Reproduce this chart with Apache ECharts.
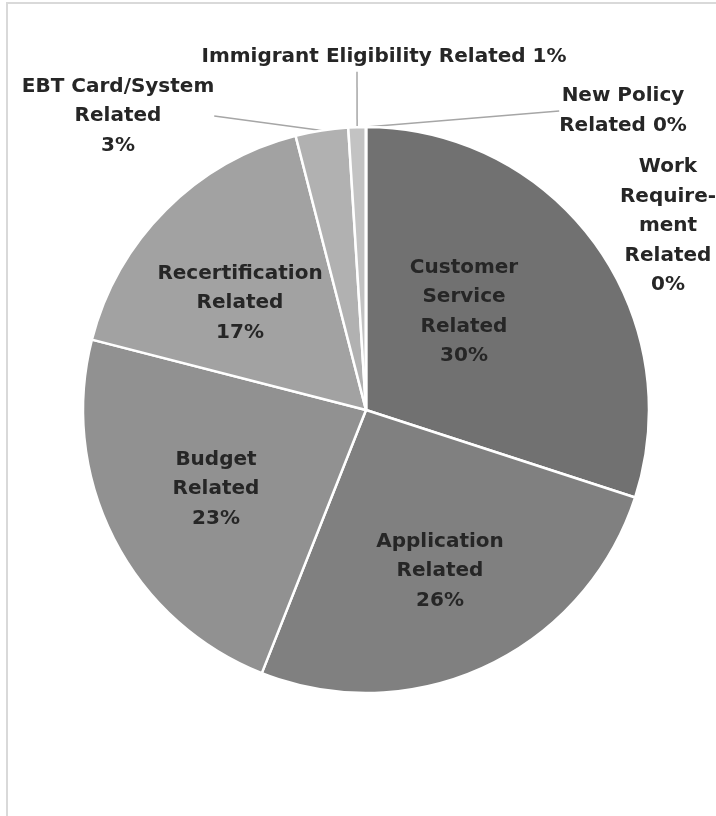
<!DOCTYPE html>
<html>
<head>
<meta charset="utf-8">
<script src="https://cdn.jsdelivr.net/npm/echarts@6/dist/echarts.min.js"></script>
<style>
  html, body { margin: 0; padding: 0; background: #ffffff; }
  #chart { width: 716px; height: 816px; }
</style>
</head>
<body>
<div id="chart"></div>
<script>
// Complaint categories, in clockwise order from 12 o'clock
const categories = [
  'Customer Service Related',
  'Application Related',
  'Budget Related',
  'Recertification Related',
  'EBT Card/System Related',
  'Immigrant Eligibility Related',
  'New Policy Related',
  'Work Requirement Related'
];
// Share of complaints, in percent
const shares = [30, 26, 23, 17, 3, 1, 0, 0];
// Label text as it is broken over lines
const labelNames = [
  'Customer\nService\nRelated',
  'Application\nRelated',
  'Budget\nRelated',
  'Recertification\nRelated',
  'EBT Card/System\nRelated',
  'Immigrant Eligibility Related',
  'New Policy\nRelated',
  'Work\nRequire-\nment\nRelated'
];
// How the value joins the name: new line or same line
const valueOnNewLine = [true, true, true, true, true, false, false, true];

// Slice fills, dark to light
const sliceColors = ['#717171', '#808080', '#919191', '#a2a2a2', '#b1b1b1', '#c3c3c3', '#d0d0d0', '#dadada'];
// Labels sitting inside their slice
const insideLabel = [true, true, true, true, false, false, false, false];
const showGuide = [false, false, false, false, true, true, true, false];
// Label box centres in pixels
const labelPos = [
  [464, 312], [440, 571], [216, 489], [240, 303],
  [118, 116], [357, 57], [623, 111], [668, 226]
];
// Extra left padding so a guide line can meet the label box off its text centre
const labelPadLeft = [0, 0, 0, 0, 0, 54, 0, 0];

const chart = echarts.init(document.getElementById('chart'), null, { renderer: 'canvas' });

const data = categories.map((name, i) => ({
  name: name,
  value: shares[i],
  itemStyle: { color: sliceColors[i] },
  label: {
    position: insideLabel[i] ? 'inside' : 'outside',
    padding: [0, 0, 0, labelPadLeft[i]]
  },
  labelLine: { show: showGuide[i] }
}));

chart.setOption({
  animation: false,
  backgroundColor: '#ffffff',
  graphic: [{
    type: 'rect',
    shape: { x: 7, y: 3, width: 900, height: 1000 },
    style: { fill: 'none', stroke: '#d9d9d9', lineWidth: 2 },
    silent: true
  }],
  series: [{
    type: 'pie',
    center: [366, 410],
    radius: 283,
    startAngle: 90,
    clockwise: true,
    avoidLabelOverlap: false,
    itemStyle: { borderColor: '#ffffff', borderWidth: 2.5 },
    label: {
      show: true,
      color: '#262626',
      fontFamily: 'DejaVu Sans',
      fontWeight: 'bold',
      fontSize: 20,
      lineHeight: 29.5,
      align: 'center',
      formatter: (p) => labelNames[p.dataIndex] + (valueOnNewLine[p.dataIndex] ? '\n' : ' ') + Math.round(p.percent) + '%'
    },
    labelLine: {
      length: 10,
      length2: 0,
      smooth: false,
      lineStyle: { color: '#a6a6a6', width: 1.5 }
    },
    labelLayout: (params) => ({
      x: labelPos[params.dataIndex][0],
      y: labelPos[params.dataIndex][1],
      align: 'center',
      verticalAlign: 'middle'
    }),
    emphasis: { disabled: true },
    data: data
  }]
});
</script>
</body>
</html>
